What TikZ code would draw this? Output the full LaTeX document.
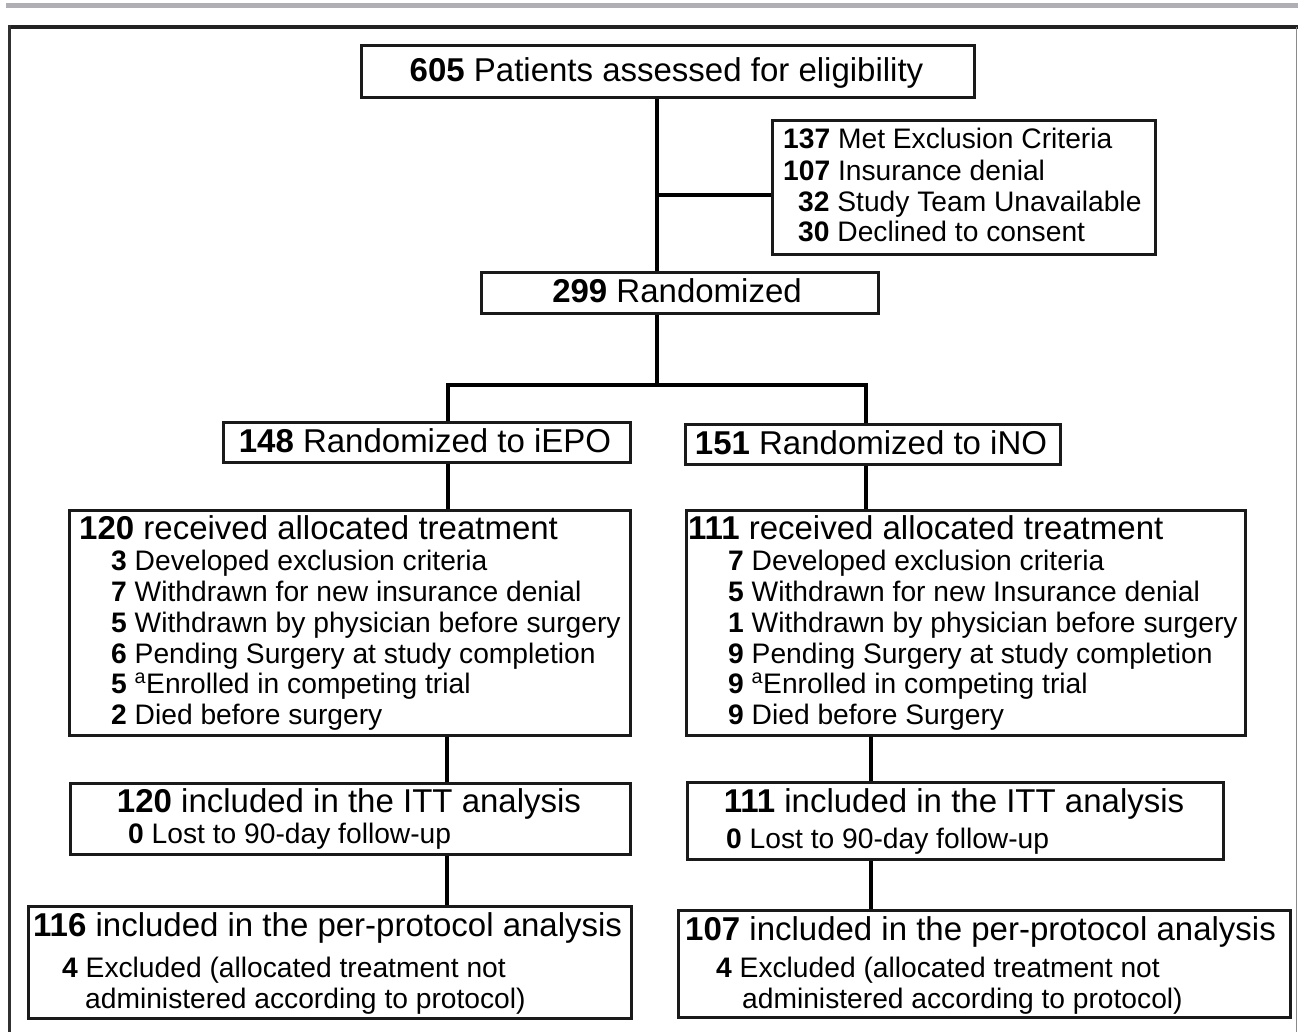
\documentclass[tikz,border=0pt]{standalone}
\usepackage{fontspec}
\setmainfont{Liberation Sans}
\definecolor{barGray}{HTML}{B0B0B4}
\definecolor{frameDark}{HTML}{222222}
\definecolor{frameGray}{HTML}{8A8A8A}
\definecolor{boxLine}{HTML}{1A1A1A}
\tikzset{
  fbox/.style={draw=boxLine, line width=2.6pt, inner sep=0pt, anchor=north west},
  conn/.style={draw=black, line width=4.5pt, line join=miter},
  bigtxt/.style={font=\fontsize{33}{34}\selectfont, inner sep=0pt},
  smalltxt/.style={font=\fontsize{28.2}{30.8}\selectfont, inner sep=0pt, anchor=base west},
}
\newcommand{\boxat}[5]{\node[fbox, minimum width=#4-#2, minimum height=#5-#3] (#1) at (#2,#3) {};}
\begin{document}
\begin{tikzpicture}[x=1pt,y=-1pt]
\useasboundingbox (0,0) rectangle (1298,1032);
% page decoration
\fill[barGray] (6,3) rectangle (1298,8.5);
\draw[frameDark, line width=3.5pt] (8,27) -- (1298,27);
\draw[frameDark!85!gray, line width=3pt] (9.5,25.5) -- (9.5,1032);
\draw[frameGray, line width=1.2pt] (1296.5,27) -- (1296.5,1032);

% boxes
\boxat{top}{360}{44}{973}{96}
\node[bigtxt, anchor=base] (topt) at (666.5,82) {\textbf{605} Patients assessed for eligibility};

\boxat{excl}{771}{119}{1154}{253}
\node[smalltxt] (ex1) at (783,149) {\textbf{137} Met Exclusion Criteria};
\node[smalltxt] (ex2) at (783,181) {\textbf{107} Insurance denial};
\node[smalltxt] (ex3) at (798,211.5) {\textbf{32} Study Team Unavailable};
\node[smalltxt] (ex4) at (798,242) {\textbf{30} Declined to consent};

\boxat{rand}{480}{271}{877}{312}
\node[bigtxt, anchor=base] (randt) at (677,302) {\textbf{299} Randomized};

\boxat{L1}{222}{421}{629}{461}
\node[bigtxt, anchor=base] (L1t) at (425,452) {\textbf{148} Randomized to iEPO};
\boxat{R1}{684}{423}{1059}{463}
\node[bigtxt, anchor=base] (R1t) at (871,454) {\textbf{151} Randomized to iNO};

\boxat{L2}{68}{509}{629}{734}
\node[bigtxt, anchor=base west] (L2t) at (79,539) {\textbf{120} received allocated treatment};
\node[smalltxt] (L2a) at (111,570) {\textbf{3} Developed exclusion criteria};
\node[smalltxt] (L2b) at (111,601) {\textbf{7} Withdrawn for new insurance denial};
\node[smalltxt] (L2c) at (111,632) {\textbf{5} Withdrawn by physician before surgery};
\node[smalltxt] (L2d) at (111,663) {\textbf{6} Pending Surgery at study completion};
\node[smalltxt] (L2e) at (111,693) {\textbf{5} \textsuperscript{a}Enrolled in competing trial};
\node[smalltxt] (L2f) at (111,724) {\textbf{2} Died before surgery};

\boxat{R2}{685}{509}{1244}{734}
\node[bigtxt, anchor=base west] (R2t) at (688,539) {\textbf{111} received allocated treatment};
\node[smalltxt] (R2a) at (728,570) {\textbf{7} Developed exclusion criteria};
\node[smalltxt] (R2b) at (728,601) {\textbf{5} Withdrawn for new Insurance denial};
\node[smalltxt] (R2c) at (728,632) {\textbf{1} Withdrawn by physician before surgery};
\node[smalltxt] (R2d) at (728,663) {\textbf{9} Pending Surgery at study completion};
\node[smalltxt] (R2e) at (728,693) {\textbf{9} \textsuperscript{a}Enrolled in competing trial};
\node[smalltxt] (R2f) at (728,724) {\textbf{9} Died before Surgery};

\boxat{L3}{69}{782}{629}{853}
\node[bigtxt, anchor=base] (L3t) at (349,812) {\textbf{120} included in the ITT analysis};
\node[smalltxt] (L3a) at (128,843) {\textbf{0} Lost to 90-day follow-up};
\boxat{R3}{686}{781}{1222}{858}
\node[bigtxt, anchor=base] (R3t) at (954,812) {\textbf{111} included in the ITT analysis};
\node[smalltxt] (R3a) at (726,848) {\textbf{0} Lost to 90-day follow-up};

\boxat{L4}{27}{905}{630}{1017}
\node[bigtxt, anchor=base west] (L4t) at (33,936) {\textbf{116} included in the per-protocol analysis};
\node[smalltxt] (L4a) at (62,977) {\textbf{4} Excluded (allocated treatment not};
\node[smalltxt] (L4b) at (85,1008) {administered according to protocol)};
\boxat{R4}{677}{909}{1289}{1016}
\node[bigtxt, anchor=base west] (R4t) at (685,940) {\textbf{107} included in the per-protocol analysis};
\node[smalltxt] (R4a) at (716,977) {\textbf{4} Excluded (allocated treatment not};
\node[smalltxt] (R4b) at (742,1008) {administered according to protocol)};

% connector guide coordinates
\coordinate (trunk) at (657,0);
\coordinate (br) at (657,195);
\coordinate (bar) at (657,385);
\coordinate (barL) at (448,385);
\coordinate (barR) at (866,385);
\coordinate (colL) at (448,0);
\coordinate (colL2) at (447,0);
\coordinate (colR) at (866,0);
\coordinate (colR2) at (871,0);

% connectors
\draw[conn] (top.south -| trunk) -- (rand.north -| trunk);
\draw[conn] (br) -- (br -| excl.west);
\draw[conn] (rand.south -| bar) -- (bar);
\draw[conn] (L1.north -| barL) -- (barL) -- (barR) -- (R1.north -| barR);
\draw[conn] (L1.south -| colL) -- (L2.north -| colL);
\draw[conn] (R1.south -| colR) -- (R2.north -| colR);
\draw[conn] (L2.south -| colL2) -- (L3.north -| colL2);
\draw[conn] (R2.south -| colR2) -- (R3.north -| colR2);
\draw[conn] (L3.south -| colL2) -- (L4.north -| colL2);
\draw[conn] (R3.south -| colR2) -- (R4.north -| colR2);
\end{tikzpicture}
\end{document}
